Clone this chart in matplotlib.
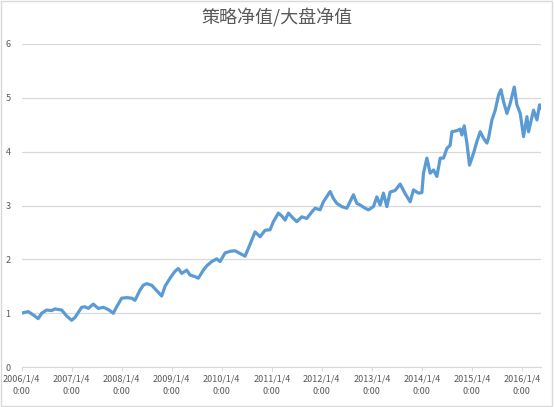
import matplotlib
matplotlib.use("Agg")
import matplotlib.pyplot as plt
import matplotlib.dates as mdates
import pandas as pd
from matplotlib.patches import Rectangle

plt.rcParams['font.family'] = ['Noto Sans CJK SC', 'DejaVu Sans']

title = "策略净值/大盘净值"
start = pd.Timestamp("2006-01-04")

# years elapsed since 2006/1/4
t_years = [0.000, 0.032, 0.132, 0.232, 0.332, 0.400, 0.500, 0.600, 0.666, 0.800,
           0.900, 1.000, 1.066, 1.200, 1.266, 1.332, 1.432, 1.532, 1.632, 1.732,
           1.832, 1.900, 2.000, 2.100, 2.200, 2.266, 2.366, 2.432, 2.500, 2.600,
           2.700, 2.800, 2.866, 2.966, 3.066, 3.132, 3.200, 3.300, 3.366, 3.466,
           3.532, 3.632, 3.700, 3.800, 3.900, 3.966, 4.066, 4.166, 4.266, 4.366,
           4.466, 4.566, 4.666, 4.766, 4.866, 4.966, 5.032, 5.132, 5.206, 5.266,
           5.332, 5.432, 5.500, 5.600, 5.700, 5.800, 5.866, 5.966, 6.032, 6.166,
           6.232, 6.300, 6.400, 6.500, 6.632, 6.700, 6.766, 6.866, 6.932, 7.032,
           7.100, 7.166, 7.232, 7.300, 7.366, 7.466, 7.566, 7.666, 7.766, 7.832,
           7.932, 8.000, 8.032, 8.100, 8.166, 8.232, 8.300, 8.366, 8.432, 8.500,
           8.566, 8.600, 8.700, 8.766, 8.800, 8.846, 8.900, 8.952, 9.032, 9.100,
           9.166, 9.232, 9.300, 9.332, 9.400, 9.466, 9.532, 9.580, 9.632, 9.700,
           9.766, 9.846, 9.900, 9.966, 10.032, 10.100, 10.132, 10.232, 10.300, 10.352,
           10.386]

nav_ratio = [1.00, 1.01, 1.03, 0.97, 0.90, 1.00, 1.06, 1.05, 1.08, 1.06,
             0.95, 0.87, 0.92, 1.11, 1.12, 1.09, 1.17, 1.09, 1.11, 1.07,
             1.00, 1.12, 1.28, 1.29, 1.28, 1.24, 1.43, 1.52, 1.55, 1.52,
             1.42, 1.32, 1.50, 1.65, 1.78, 1.83, 1.74, 1.80, 1.71, 1.68,
             1.65, 1.80, 1.88, 1.96, 2.01, 1.96, 2.12, 2.15, 2.16, 2.11,
             2.06, 2.28, 2.51, 2.42, 2.54, 2.55, 2.70, 2.86, 2.80, 2.73,
             2.86, 2.76, 2.70, 2.79, 2.76, 2.88, 2.95, 2.92, 3.07, 3.26,
             3.13, 3.04, 2.98, 2.95, 3.20, 3.04, 3.01, 2.95, 2.92, 2.98,
             3.16, 3.01, 3.23, 2.98, 3.25, 3.28, 3.40, 3.22, 3.07, 3.29,
             3.23, 3.24, 3.60, 3.88, 3.60, 3.66, 3.54, 3.88, 3.88, 4.06,
             4.12, 4.37, 4.39, 4.42, 4.31, 4.48, 4.16, 3.75, 3.97, 4.19,
             4.37, 4.25, 4.16, 4.25, 4.59, 4.77, 5.05, 5.15, 4.93, 4.71,
             4.90, 5.20, 4.87, 4.71, 4.28, 4.65, 4.37, 4.77, 4.59, 4.87,
             4.81]

tick_years = list(range(2006, 2017))
tick_labels = [f"{y}/1/4\n0:00" for y in tick_years]
y_ticks = [0, 1, 2, 3, 4, 5, 6]

dates = [start + pd.Timedelta(days=t * 365.25) for t in t_years]

fig = plt.figure(figsize=(5.54, 4.07), dpi=100)
ax = fig.add_axes([0.039, 0.098, 0.938, 0.794])

ax.plot(dates, nav_ratio, color="#5B9BD5", linewidth=2.3, solid_joinstyle="round")

ax.set_ylim(0, 6)
ax.set_yticks(y_ticks)
ax.set_xlim(dates[0], dates[-1])
ax.set_xticks([pd.Timestamp(f"{y}-01-04") for y in tick_years])
ax.set_xticklabels(tick_labels)

ax.grid(axis="y", color="#D9D9D9", linewidth=0.9)
ax.set_axisbelow(True)
for s in ["top", "right", "left"]:
    ax.spines[s].set_visible(False)
ax.spines["bottom"].set_color("#D9D9D9")
ax.tick_params(axis="y", length=0, labelsize=6.5, labelcolor="#595959", pad=8)
ax.tick_params(axis="x", length=3, color="#D9D9D9", labelsize=6.5,
               labelcolor="#595959", pad=2)
for lbl in ax.get_xticklabels():
    lbl.set_linespacing(1.6)

fig.text(0.5, 0.955, title, ha="center", va="center", fontsize=13, color="#595959")

# chart border
fig.patches.append(Rectangle((0.002, 0.003), 0.995, 0.994, transform=fig.transFigure,
                             fill=False, edgecolor="#D9D9D9", linewidth=1))

fig.savefig("out.png", dpi=100)
